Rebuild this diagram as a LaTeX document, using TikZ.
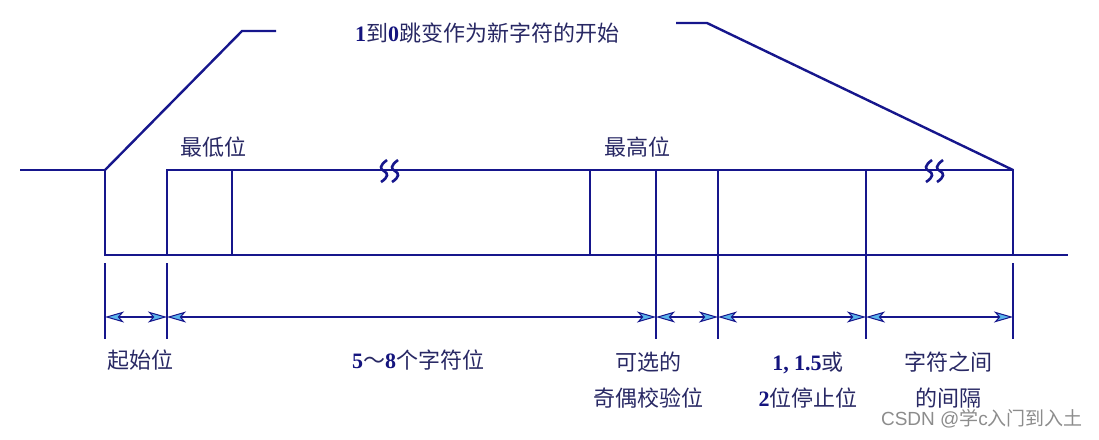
\documentclass[tikz,border=0pt]{standalone}
\usepackage{fontspec}
\setmainfont{Noto Sans CJK SC}
\newfontfamily\numfont{Liberation Serif}
\newfontfamily\markfont{Liberation Sans}
\usetikzlibrary{arrows.meta}
\definecolor{wire}{RGB}{22,22,140}
\definecolor{ink}{RGB}{40,40,100}
\definecolor{tipfill}{RGB}{90,180,235}
\newcommand\dg[1]{{\numfont\bfseries\color{wire!90!black}#1}}
\tikzset{
  sig/.style={wire, line width=2.4},
  dimline/.style={wire, line width=2.4,
    >={Stealth[length=19pt, width=11pt, inset=5pt, fill=tipfill, line width=1pt]}, <->},
  lbl/.style={ink, inner sep=0pt, align=center,
    font=\fontsize{22}{36}\selectfont},
}

\begin{document}
\begin{tikzpicture}[x=1pt,y=-1pt]
  \useasboundingbox (0,0) rectangle (1099,439);
  \foreach \n/\x in {start/105, lsb/167, low/232, msb/590, par/656,
                     stop/718, gap/866, next/1013} {
    \coordinate (\n-hi) at (\x,170);
    \coordinate (\n-lo) at (\x,255);
    \coordinate (\n-ext) at (\x,263);
    \coordinate (\n-dim) at (\x,317);
    \coordinate (\n-end) at (\x,339);
  }
  \coordinate (idle) at (20,170);
  \coordinate (tail) at (1068,255);
  \coordinate (kneeL) at (242,31);
  \coordinate (armL) at (276,31);
  \coordinate (armR) at (676,23);
  \coordinate (kneeR) at (707,23);

  \draw[sig] (idle) -- (start-hi) -- (start-lo) -- (tail);
  \draw[sig] (lsb-lo) -- (lsb-hi) -- (next-hi) -- (next-lo);
  \foreach \n in {low,msb} \draw[sig] (\n-hi) -- (\n-lo);
  \foreach \n in {par,stop,gap} \draw[sig] (\n-hi) -- (\n-end);
  \foreach \n in {start,lsb,next} \draw[sig] (\n-ext) -- (\n-end);
  \foreach \a/\b in {start/lsb, lsb/par, par/stop, stop/gap, gap/next}
    \draw[dimline] (\a-dim) -- (\b-dim);

  \draw[sig] (start-hi) -- (kneeL) -- (armL);
  \draw[sig] (armR) -- (kneeR) -- (next-hi);

  \foreach \x in {384,395,929,940}
    \draw[wire, line width=2.6] (\x+3,160) .. controls (\x-5,166) and (\x-4,169) .. (\x,171)
      .. controls (\x+4,173) and (\x+5,177) .. (\x-3,182);

  \node[lbl] (edge) at (487,33) {\dg{1}到\dg{0}跳变作为新字符的开始};
  \node[lbl] (lsbtxt) at (213,147) {最低位};
  \node[lbl] (msbtxt) at (637,147) {最高位};
  \node[lbl] (starttxt) at (140,360) {起始位};
  \node[lbl] (datatxt) at (418,360) {\dg{5}～\dg{8}个字符位};
  \node[lbl] (partxt) at (648,380) {可选的\\奇偶校验位};
  \node[lbl] (stoptxt) at (808,380) {\dg{1, 1.5}或\\\dg{2}位停止位};
  \node[lbl] (gaptxt) at (948,380) {字符之间\\的间隔};
  \node[inner sep=0pt, black!45, font=\fontsize{19}{22}\selectfont] (mark) at (982,419)
    {{\markfont CSDN @}学{\markfont c}入门到入土};
\end{tikzpicture}
\end{document}
